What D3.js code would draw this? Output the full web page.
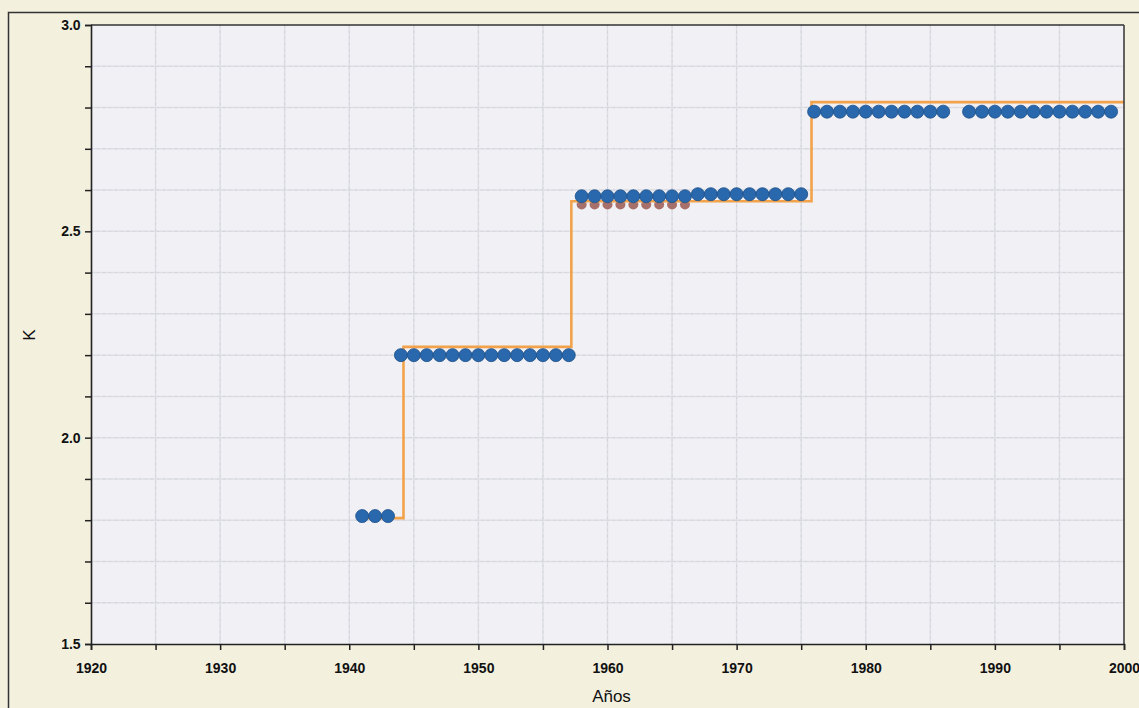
<!DOCTYPE html>
<html><head><meta charset="utf-8">
<script src="https://cdn.jsdelivr.net/npm/d3@7"></script>
<style>body{margin:0;background:#f3f0de;}svg{display:block;}</style>
</head><body>
<svg id="c" width="1139" height="708"></svg>
<script>
// Data
const obsYears = [1941,1942,1943,
  1944,1945,1946,1947,1948,1949,1950,1951,1952,1953,1954,1955,1956,1957,
  1958,1959,1960,1961,1962,1963,1964,1965,1966,1967,1968,1969,1970,1971,1972,1973,1974,1975,
  1976,1977,1978,1979,1980,1981,1982,1983,1984,1985,1986,
  1988,1989,1990,1991,1992,1993,1994,1995,1996,1997,1998,1999];
const obsK = [1.81,1.81,1.81,
  2.20,2.20,2.20,2.20,2.20,2.20,2.20,2.20,2.20,2.20,2.20,2.20,2.20,2.20,
  2.585,2.585,2.585,2.585,2.585,2.585,2.585,2.585,2.585,2.59,2.59,2.59,2.59,2.59,2.59,2.59,2.59,2.59,
  2.79,2.79,2.79,2.79,2.79,2.79,2.79,2.79,2.79,2.79,2.79,
  2.79,2.79,2.79,2.79,2.79,2.79,2.79,2.79,2.79,2.79,2.79,2.79];
const altYears = [1943,1958,1959,1960,1961,1962,1963,1964,1965,1966];
const altK = [1.808,2.565,2.565,2.565,2.565,2.565,2.565,2.565,2.565,2.565];
const stepYears = [1941,1944.2,1957.2,1975.8,2000];
const stepK = [1.805,2.22,2.573,2.813,2.813];
const xTicks = [1920,1930,1940,1950,1960,1970,1980,1990,2000];
const yTicks = [1.5,2.0,2.5,3.0];

const svg = d3.select("#c");
const L=91, R=1124, T=25, B=644;
const x = d3.scaleLinear().domain([1920,2000]).range([L,R]);
const y = d3.scaleLinear().domain([1.5,3.0]).range([B,T]);

// outer frame
svg.append("rect").attr("x",8.5).attr("y",12.5).attr("width",1140).attr("height",710)
  .attr("fill","#f3f0de").attr("stroke","#333").attr("stroke-width",1.5);
// plot background
svg.append("rect").attr("x",L).attr("y",T).attr("width",R-L).attr("height",B-T).attr("fill","#f0f0f5");

const g = svg.append("g");
// grid
const gx = d3.range(1925,2000,5), gy = d3.range(1.6,2.95,0.1);
g.selectAll(".vg").data(gx).join("line").attr("x1",d=>x(d)).attr("x2",d=>x(d)).attr("y1",T).attr("y2",B)
  .attr("stroke","#dedee5").attr("stroke-width",1.5);
g.selectAll(".hg").data(gy).join("line").attr("y1",d=>y(d)).attr("y2",d=>y(d)).attr("x1",L).attr("x2",R)
  .attr("stroke","#dedee5").attr("stroke-width",1.5);
// dotted grid
g.selectAll(".vd").data(gx).join("line").attr("x1",d=>x(d)).attr("x2",d=>x(d)).attr("y1",T).attr("y2",B)
  .attr("stroke","#b8b8c4").attr("stroke-width",1).attr("stroke-dasharray","2,4").attr("opacity",0.3);
g.selectAll(".hd").data(gy).join("line").attr("y1",d=>y(d)).attr("y2",d=>y(d)).attr("x1",L).attr("x2",R)
  .attr("stroke","#b8b8c4").attr("stroke-width",1).attr("stroke-dasharray","2,4").attr("opacity",0.3);

// alt series (behind)
g.selectAll(".alt").data(altYears).join("circle").attr("cx",d=>x(d)).attr("cy",(d,i)=>y(altK[i]))
  .attr("r",5).attr("fill","#a8706a");

// step line
const stepPts = stepYears.map((d,i)=>[d,stepK[i]]);
g.append("path").datum(stepPts)
  .attr("d", d3.line().x(d=>x(d[0])).y(d=>y(d[1])).curve(d3.curveStepAfter))
  .attr("fill","none").attr("stroke","#f2a24a").attr("stroke-width",2.6);

// observed points
g.selectAll(".obs").data(obsYears).join("circle").attr("cx",d=>x(d)).attr("cy",(d,i)=>y(obsK[i]))
  .attr("r",6.5).attr("fill","#2a68ad").attr("stroke","#1c4f88").attr("stroke-width",0.8);

// plot border
svg.append("line").attr("x1",L).attr("x2",R).attr("y1",T).attr("y2",T).attr("stroke","#333").attr("stroke-width",1.5);
svg.append("line").attr("x1",R).attr("x2",R).attr("y1",T).attr("y2",B).attr("stroke","#333").attr("stroke-width",1.5);

// axes
const xAxis = svg.append("g").attr("transform",`translate(0,${B})`)
  .call(d3.axisBottom(x).tickValues(d3.range(1920,2001,5)).tickSize(6)
    .tickFormat(d=> xTicks.includes(d)? String(d):""));
const yAxis = svg.append("g").attr("transform",`translate(${L},0)`)
  .call(d3.axisLeft(y).tickValues(d3.range(1.5,3.001,0.1)).tickSize(6)
    .tickFormat(d=> yTicks.some(t=>Math.abs(t-d)<1e-6)? d.toFixed(1):""));
[xAxis,yAxis].forEach(a=>{
  a.select(".domain").attr("stroke","#222").attr("stroke-width",1.6);
  a.selectAll(".tick line").attr("stroke","#222").attr("stroke-width",1.5);
  a.selectAll("text").attr("font-family","Liberation Sans, Arial, sans-serif")
    .attr("font-weight","bold").attr("font-size",14).attr("fill","#111");
});
xAxis.selectAll("text").attr("dy","1.45em");
yAxis.selectAll("text").attr("dx","-0.1em");

svg.append("text").attr("x",(L+R)/2+4).attr("y",702).attr("text-anchor","middle")
  .attr("font-family","Liberation Sans, Arial, sans-serif").attr("font-size",17).attr("fill","#111").text("Años");
svg.append("text").attr("transform","translate(35,335) rotate(-90)").attr("text-anchor","middle")
  .attr("font-family","Liberation Sans, Arial, sans-serif").attr("font-size",17).attr("fill","#111").text("K");
</script>
</body></html>
